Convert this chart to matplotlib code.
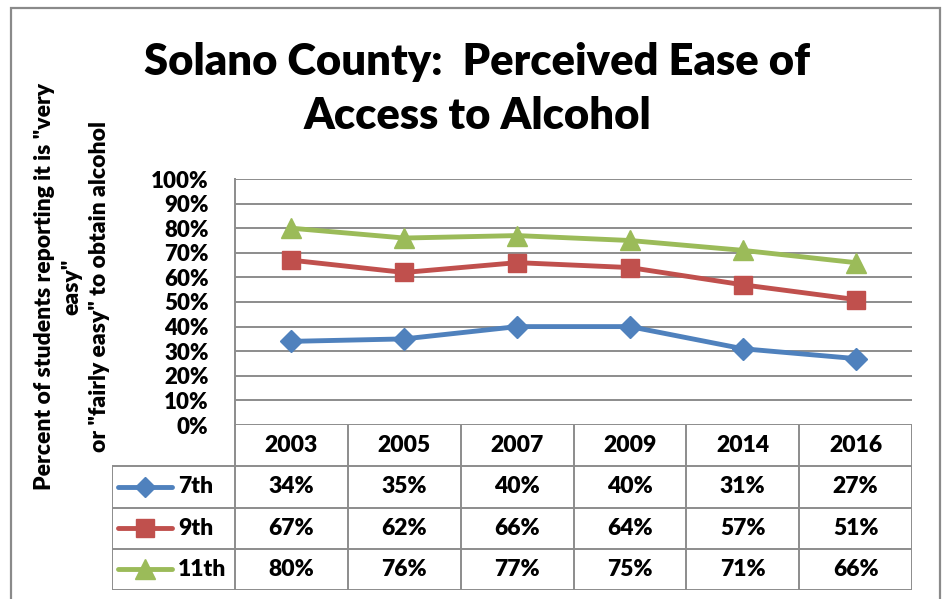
import matplotlib.pyplot as plt
from matplotlib.lines import Line2D
from matplotlib.patches import Rectangle

years = ["2003", "2005", "2007", "2009", "2014", "2016"]
grades = ["7th", "9th", "11th"]
grade_7 = [34, 35, 40, 40, 31, 27]
grade_9 = [67, 62, 66, 64, 57, 51]
grade_11 = [80, 76, 77, 75, 71, 66]

series = [grade_7, grade_9, grade_11]
colors = ["#4F81BD", "#C0504D", "#9BBB59"]
markers = ["D", "s", "^"]
msizes = [11, 13, 15]
grid_color = "#8c8c8c"
FONT = "Lato"
WEIGHT = "heavy"

W, H = 943, 599
fig = plt.figure(figsize=(W / 100, H / 100), dpi=100)


def px_axes(x0, y0, x1, y1):
    # axes from pixel box (top-left origin)
    return fig.add_axes([x0 / W, 1 - y1 / H, (x1 - x0) / W, (y1 - y0) / H])


# outer chart border
fig.patches.append(Rectangle((11 / W, -0.05), (940 - 11) / W, 1.05 - 8 / H,
                             transform=fig.transFigure, fill=False,
                             edgecolor="#8a8a8a", lw=1.6))

fig.text(477 / W, 1 - 62 / H, "Solano County:  Perceived Ease of", ha="center", va="center",
         fontsize=31.3, fontweight=WEIGHT, family=FONT)
fig.text(477 / W, 1 - 116 / H, "Access to Alcohol", ha="center", va="center",
         fontsize=31.3, fontweight=WEIGHT, family=FONT)

# line chart
ax = px_axes(235, 179, 912, 425)
x = list(range(len(years)))
for vals, c, m, ms in zip(series, colors, markers, msizes):
    ax.plot(x, [v / 100 for v in vals], color=c, lw=3.5, marker=m, ms=ms,
            solid_capstyle="round", zorder=3)
ax.set_xlim(-0.5, len(years) - 0.5)
ax.set_ylim(0, 1)
ax.set_yticks([i / 10 for i in range(11)])
ax.set_yticklabels([f"{i * 10}%" for i in range(11)], fontsize=16, fontweight=WEIGHT, family=FONT)
ax.tick_params(axis="y", length=0, pad=19)
ax.set_xticks([])
ax.grid(axis="y", color=grid_color, lw=1.4)
for s in ["top", "right", "bottom"]:
    ax.spines[s].set_visible(False)
ax.spines["left"].set_color(grid_color)
ax.spines["left"].set_linewidth(1.4)

ylab = ['Percent of students reporting it is "very', 'easy"', 'or "fairly easy" to obtain alcohol']
for xp, line in zip([45, 72, 100], ylab):
    fig.text(xp / W, 1 - 287 / H, line, rotation=90, ha="center", va="center",
             fontsize=16.5, fontweight=WEIGHT, family=FONT)

# data table under the chart
tab = px_axes(112, 425, 912, 590)
leg_w = 123 / (677 / 6)
left = -0.5 - leg_w
tab.set_xlim(left, len(years) - 0.5)
tab.set_ylim(4, 0)
tab.axis("off")
lk = dict(color=grid_color, lw=1.4, solid_capstyle="butt")
for i in range(len(years) + 1):
    tab.plot([i - 0.5, i - 0.5], [0, 4], **lk)
tab.plot([left, left], [1, 4], **lk)
for r in range(1, 5):
    tab.plot([left, len(years) - 0.5], [r, r], **lk)

for i, yr in enumerate(years):
    tab.text(i, 0.5, yr, ha="center", va="center", fontsize=16.5, fontweight=WEIGHT, family=FONT)
for r, (g, vals, c, m, ms) in enumerate(zip(grades, series, colors, markers, msizes)):
    yy = r + 1.5
    key_x0 = left + 6 / 112.8
    key_x1 = left + 60 / 112.8
    tab.add_line(Line2D([key_x0, key_x1], [yy, yy], color=c, lw=3.5, solid_capstyle="round"))
    tab.add_line(Line2D([(key_x0 + key_x1) / 2], [yy], color=c, marker=m, ms=ms * 0.95, lw=0))
    tab.text(left + 66 / 112.8, yy, g, ha="left", va="center", fontsize=16.5,
             fontweight=WEIGHT, family=FONT)
    for i, v in enumerate(vals):
        tab.text(i, yy, f"{v}%", ha="center", va="center", fontsize=16.5,
                 fontweight=WEIGHT, family=FONT)

fig.savefig("out.png", dpi=100)
